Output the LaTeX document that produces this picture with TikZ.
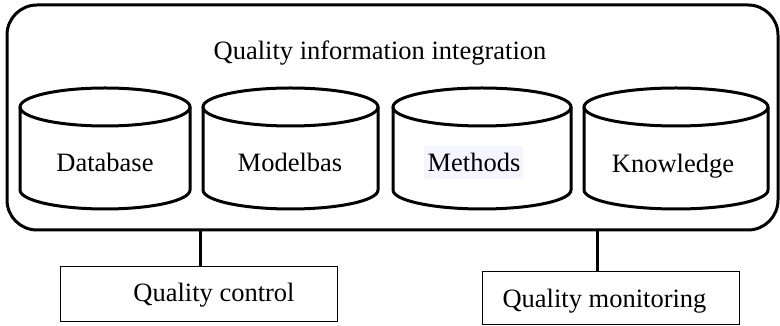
\documentclass[tikz,border=0pt]{standalone}
\usepackage{fontspec}
\setmainfont{Liberation Serif}
\begin{document}
\begin{tikzpicture}[x=1pt,y=1pt,
  heavy/.style={line width=3pt},
  label/.style={font=\fontsize{26.5}{30}\selectfont, inner sep=0pt, anchor=base},
  smallbox/.style={draw, line width=1pt, inner sep=0pt}]
\useasboundingbox (0,0) rectangle (780,326);
% outer container
\draw[heavy, rounded corners=30pt] (7,321) rectangle (778,96);
\coordinate (outerbottomL) at (200,96);
\coordinate (outerbottomR) at (597,96);
\node[label] (title) at (380,266) {Quality information integration};
% cylinders
\foreach \cx/\rx in {105/85, 290.5/87.5, 482/89, 676/92}{
  \draw[heavy] (\cx,219) ellipse [x radius=\rx, y radius=19];
  \draw[heavy] (\cx-\rx,219) -- (\cx-\rx,136) arc [start angle=180, end angle=360, x radius=\rx, y radius=19] -- (\cx+\rx,219);
}
\fill[blue!4] (424,147) rectangle (523,180);
\node[label] (db) at (105,154) {Database};
\node[label] (mb) at (290,154) {Modelbas};
\node[label] (me) at (474,154) {Methods};
\node[label] (kn) at (673,153) {Knowledge};
% bottom boxes
\node[smallbox, minimum width=277pt, minimum height=55pt] (qc) at (198.5,31.5) {};
\node[label] (qct) at (214,24) {Quality control};
\node[smallbox, minimum width=257pt, minimum height=53pt] (qm) at (610.5,27.5) {};
\node[label] (qmt) at (604.5,18) {Quality monitoring};
\draw[heavy] (outerbottomL) -- (qc.north -| outerbottomL);
\draw[heavy] (outerbottomR) -- (qm.north -| outerbottomR);
\end{tikzpicture}
\end{document}
